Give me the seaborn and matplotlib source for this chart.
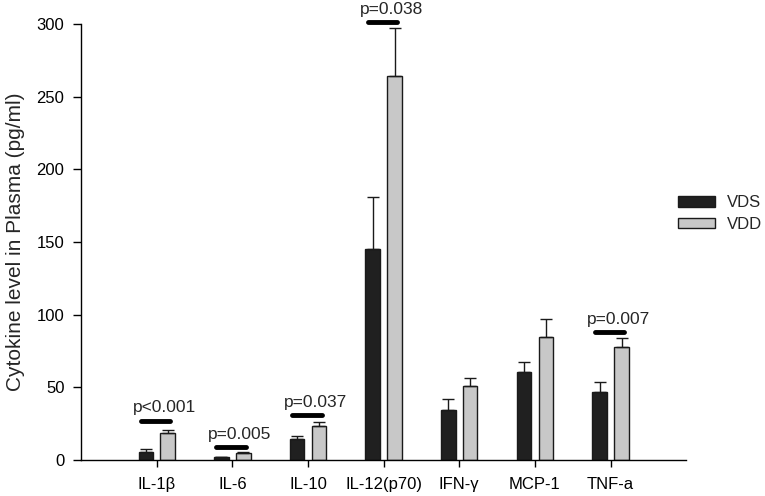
import pandas as pd
import numpy as np
import matplotlib.pyplot as plt
import seaborn as sns

sns.set_style('ticks')
plt.rcParams['font.family'] = ['Liberation Sans', 'DejaVu Sans']

# data
cytokines = ['IL-1β', 'IL-6', 'IL-10', 'IL-12(p70)', 'IFN-γ', 'MCP-1', 'TNF-a']
vds_mean = [5.5, 1.8, 14.2, 145, 34.2, 60.3, 47]
vds_err = [1.8, 0.5, 2.3, 36, 8.0, 7.4, 6.7]
vdd_mean = [18.8, 5.0, 23.6, 264, 50.7, 84.4, 78]
vdd_err = [2.1, 0.8, 2.5, 33.5, 5.7, 12.4, 5.7]

# significance marks: category index, label, line height, text height
p_idx = [0, 1, 2, 3, 6]
p_labels = ['p<0.001', 'p=0.005', 'p=0.037', 'p=0.038', 'p=0.007']
p_line_y = [27, 8.7, 31.2, 301.4, 88]
p_text_y = [35.8, 17.2, 39.4, 310, 97]

df = pd.DataFrame({
    'cytokine': cytokines * 2,
    'group': ['VDS'] * len(cytokines) + ['VDD'] * len(cytokines),
    'value': vds_mean + vdd_mean,
})
errs = [vds_err, vdd_err]

fig = plt.figure(figsize=(7.65, 4.96), dpi=100)
ax = fig.add_axes([0.106, 0.0726, 0.791, 0.879])

sns.barplot(data=df, x='cytokine', y='value', hue='group', order=cytokines,
            hue_order=['VDS', 'VDD'], palette={'VDS': '#202020', 'VDD': '#c8c8c8'},
            width=0.58, gap=0.34, edgecolor='#1a1a1a', linewidth=1.0,
            errorbar=None, ax=ax)

# upper error bars only
for cont, e in zip(ax.containers, errs):
    xs = [b.get_x() + b.get_width() / 2 for b in cont]
    hs = [b.get_height() for b in cont]
    ax.errorbar(xs, hs, yerr=[np.zeros(len(e)), e], fmt='none', ecolor='#1a1a1a',
                elinewidth=1.0, capsize=4, capthick=1.0, zorder=1)

for i, lab, ly, ty in zip(p_idx, p_labels, p_line_y, p_text_y):
    ax.plot([i - 0.21, i + 0.18], [ly, ly], color='black', lw=3.5,
            solid_capstyle='round', clip_on=False)
    ax.text(i + 0.1, ty, lab, ha='center', va='center', fontsize=12.5, clip_on=False)

ax.set_xlim(-1, 7)
ax.set_ylim(0, 300)
ax.set_yticks([0, 50, 100, 150, 200, 250, 300])
ax.set_xlabel('')
ax.set_ylabel('Cytokine level in Plasma (pg/ml)', fontsize=15, labelpad=8)
ax.tick_params(axis='both', labelsize=12, direction='out', length=6, width=1,
               colors='black')
ax.tick_params(axis='x', length=5, pad=7)
ax.tick_params(axis='y', pad=6)
for s in ['left', 'bottom']:
    ax.spines[s].set_color('black')
    ax.spines[s].set_linewidth(1)
sns.despine(ax=ax)

ax.legend(loc='center left', bbox_to_anchor=(0.987, 0.565), frameon=False,
          fontsize=12, handlelength=2.2, handleheight=0.6, handletextpad=0.7,
          labelspacing=0.38, borderaxespad=0, borderpad=0)

plt.savefig('out.png', dpi=100)
